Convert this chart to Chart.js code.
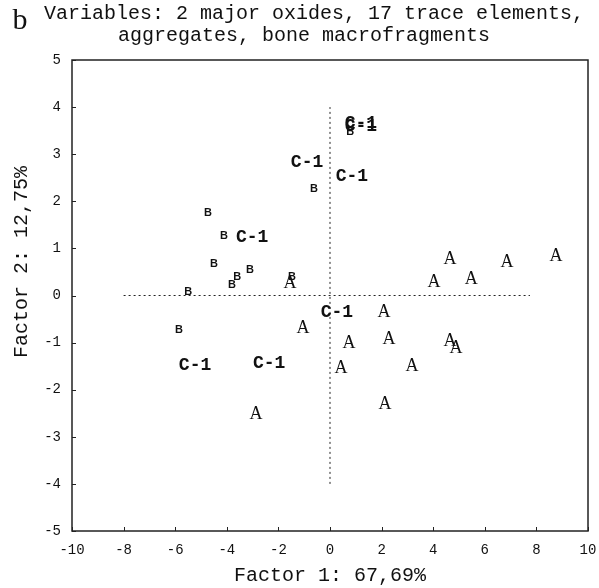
<!DOCTYPE html>
<html>
<head>
<meta charset="utf-8">
<script src="https://cdn.jsdelivr.net/npm/chart.js@4.4.1/dist/chart.umd.min.js"></script>
<style>
  html, body { margin: 0; padding: 0; background: #fff; }
  #wrap { width: 599px; height: 588px; }
</style>
</head>
<body>
<div id="wrap"><canvas id="factors" width="599" height="588"></canvas></div>
<script>
// group A samples
const groupAx = [-1.55, 4.65, 6.86, 8.76, 4.03, 5.47, 2.09, -1.05, 0.74, 2.29, 4.65, 4.88, 0.43, 3.18, 2.13, -2.87];
const groupAy = [0.27, 0.77, 0.71, 0.84, 0.29, 0.35, -0.35, -0.69, -1.01, -0.92, -0.97, -1.12, -1.54, -1.50, -2.30, -2.52];
// group B samples
const groupBx = [0.78, -0.62, -4.73, -4.11, -4.50, -3.10, -3.60, -3.80, -5.50, -1.47, -5.85];
const groupBy = [3.47, 2.26, 1.75, 1.26, 0.67, 0.54, 0.39, 0.22, 0.07, 0.39, -0.73];
// C-1 samples
const groupCx = [1.2, 1.2, -0.89, 0.85, -3.02, 0.27, -5.23, -2.36];
const groupCy = [3.66, 3.58, 2.83, 2.52, 1.24, -0.35, -1.48, -1.45];

// dotted reference axes
const hLineX = [-8, 7.75];
const hLineY = [0, 0];
const vLineX = [0, 0];
const vLineY = [-4, 4];

const xTitle = "Factor 1: 67,69%";
const yTitle = "Factor 2: 12,75%";
const titleLines = ["Variables: 2 major oxides, 17 trace elements,", "aggregates, bone macrofragments"];

const toPts = (xs, ys) => xs.map((x, i) => ({ x: x, y: ys[i] }));

const mono = "'Liberation Mono', 'DejaVu Sans Mono', monospace";

const labelPlugin = {
  id: "labels",
  afterDatasetsDraw(chart) {
    const ctx = chart.ctx;
    chart.data.datasets.forEach((ds, i) => {
      if (!ds.text) return;
      const meta = chart.getDatasetMeta(i);
      ctx.save();
      ctx.font = ds.textFont;
      ctx.fillStyle = "#111";
      ctx.textAlign = "center";
      ctx.textBaseline = "middle";
      meta.data.forEach(el => ctx.fillText(ds.text, el.x, el.y));
      ctx.restore();
    });
  },
  afterDraw(chart) {
    const ctx = chart.ctx;
    const a = chart.chartArea;
    const xs = chart.scales.x, ys = chart.scales.y;
    ctx.save();
    ctx.strokeStyle = "#222";
    ctx.lineWidth = 1.5;
    ctx.strokeRect(a.left, a.top, a.right - a.left, a.bottom - a.top);
    // inward ticks
    ctx.lineWidth = 1;
    ctx.beginPath();
    xs.ticks.forEach(t => {
      const px = Math.round(xs.getPixelForValue(t.value)) + 0.5;
      ctx.moveTo(px, a.bottom);
      ctx.lineTo(px, a.bottom - 4);
    });
    ys.ticks.forEach(t => {
      const py = Math.round(ys.getPixelForValue(t.value)) + 0.5;
      ctx.moveTo(a.left, py);
      ctx.lineTo(a.left + 4, py);
    });
    ctx.stroke();

    ctx.fillStyle = "#111";
    ctx.textAlign = "center";
    ctx.textBaseline = "middle";
    ctx.font = "20px " + mono;
    ctx.fillText(titleLines[0], 314, 14);
    ctx.fillText(titleLines[1], 304, 36);
    ctx.fillText(xTitle, 330, 576);
    ctx.save();
    ctx.translate(22, 262);
    ctx.rotate(-Math.PI / 2);
    ctx.fillText(yTitle, 0, 0);
    ctx.restore();
    ctx.font = "30px 'Liberation Serif', serif";
    ctx.fillText("b", 20, 21);
    ctx.restore();
  }
};

const refLine = {
  type: "line",
  borderColor: "#222",
  borderWidth: 1,
  borderDash: [2, 3],
  pointRadius: 0,
  showLine: true,
  fill: false
};

new Chart(document.getElementById("factors"), {
  type: "scatter",
  data: {
    datasets: [
      Object.assign({ label: "h", data: toPts(hLineX, hLineY) }, refLine),
      Object.assign({ label: "v", data: toPts(vLineX, vLineY) }, refLine),
      {
        label: "A",
        data: toPts(groupAx, groupAy),
        pointRadius: 0,
        text: "A",
        textFont: "18px 'Liberation Serif', serif"
      },
      {
        label: "B",
        data: toPts(groupBx, groupBy),
        pointRadius: 0,
        text: "B",
        textFont: "bold 11px 'Liberation Sans', sans-serif"
      },
      {
        label: "C-1",
        data: toPts(groupCx, groupCy),
        pointRadius: 0,
        text: "C-1",
        textFont: "bold 18px " + mono
      }
    ]
  },
  options: {
    responsive: false,
    animation: false,
    layout: { padding: { top: 60, right: 11, left: 0, bottom: 0 } },
    plugins: {
      legend: { display: false },
      tooltip: { enabled: false }
    },
    scales: {
      x: {
        type: "linear",
        min: -10,
        max: 10,
        afterFit: s => { s.height = 57; s.paddingLeft = 0; s.paddingRight = 0; },
        grid: { display: false, drawTicks: false },
        border: { display: false },
        ticks: { stepSize: 2, padding: 11, color: "#111", font: { family: mono, size: 14 } }
      },
      y: {
        type: "linear",
        min: -5,
        max: 5,
        afterFit: s => { s.width = 72; s.paddingTop = 0; s.paddingBottom = 0; },
        grid: { display: false, drawTicks: false },
        border: { display: false },
        ticks: { stepSize: 1, padding: 11, color: "#111", font: { family: mono, size: 14 } }
      }
    }
  },
  plugins: [labelPlugin]
});
</script>
</body>
</html>
